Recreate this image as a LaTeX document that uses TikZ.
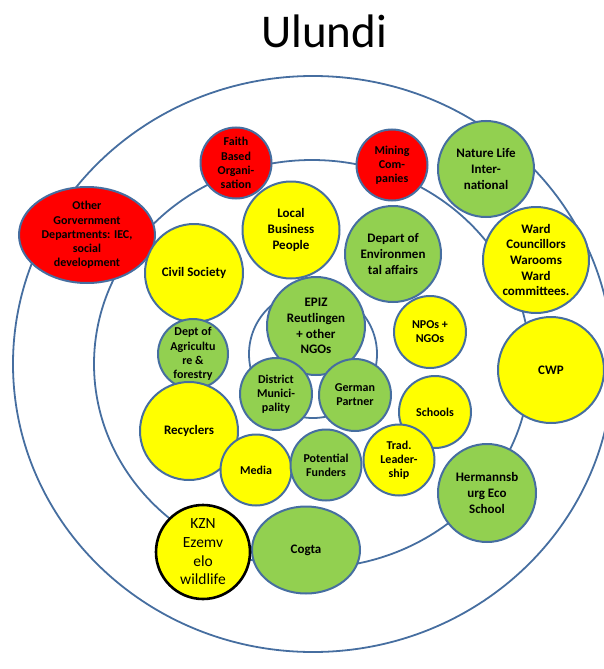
\documentclass[tikz,border=0pt]{standalone}
\usepackage{fontspec}
\setmainfont{Carlito}
\usepackage{tikz}
\usetikzlibrary{shapes.geometric}
\definecolor{ringblue}{RGB}{70,110,160}
\definecolor{leafgreen}{RGB}{146,208,80}
\definecolor{sunyellow}{RGB}{255,255,0}
\definecolor{alertred}{RGB}{255,0,0}

\begin{document}
\begin{tikzpicture}[x=1pt, y=-1pt,
    bubble/.style={circle, draw=ringblue, line width=2pt, inner sep=0pt,
        align=center, font=\bfseries\fontsize{13}{15.7}\selectfont},
    small/.style={font=\bfseries\fontsize{12}{14.2}\selectfont},
    redb/.style={bubble, fill=alertred},
    yellowb/.style={bubble, fill=sunyellow},
    greenb/.style={bubble, fill=leafgreen},
    ring/.style={draw=ringblue, line width=1.8pt}]
    \useasboundingbox (0,0) rectangle (603,669);

    % Title
    \node[anchor=base, font=\fontsize{47}{56}\selectfont] (title) at (324,48) {Ulundi};

    % Rings
    \draw[ring] (313,364) ellipse [x radius=300pt, y radius=288pt];
    \draw[ring] (312,364) ellipse [x radius=218pt, y radius=204pt];
    \draw[ring] (313,354) circle [radius=64pt];

    % Outer actors
    \node[redb, small, ellipse, minimum width=136pt, minimum height=96pt] (othergov) at (87,235)
        {Other\\Gorvernment\\Departments: IEC,\\social\\development};
    \node[redb, small, minimum size=71pt] (faith) at (236,163) {Faith\\Based\\Organi-\\sation};
    \node[redb, small, minimum size=71pt] (mining) at (392,165) {Mining\\Com-\\panies};
    \node[greenb, minimum size=96pt] (naturelife) at (486,169) {Nature Life\\Inter-\\national};
    \node[yellowb, minimum size=106pt] (ward) at (536,260) {Ward\\Councillors\\Warooms\\Ward\\committees.};
    \node[yellowb, minimum size=106pt] (cwp) at (551,370) {CWP};

    % Middle actors
    \node[yellowb, minimum size=98pt] (civil) at (194,273) {Civil Society};
    \node[yellowb, minimum size=97pt] (business) at (291,230) {Local\\Business\\People};
    \node[greenb, minimum size=96pt] (environ) at (393,254) {Depart of\\Environmen\\tal affairs};
    \node[yellowb, small, minimum size=72pt] (npos) at (430,332) {NPOs +\\NGOs};
    \node[greenb, small, minimum size=70pt] (agri) at (193,354) {Dept of\\Agricultu\\re \&\\forestry};
    \node[yellowb, minimum size=98pt] (recyclers) at (189,431) {Recyclers};

    % Inner actors
    \node[greenb, minimum size=98pt] (epiz) at (316,326) {EPIZ\\Reutlingen\\+ other\\NGOs};
    \node[greenb, small, minimum size=72pt] (district) at (276,394) {District\\Munici-\\pality};
    \node[greenb, small, minimum size=72pt] (german) at (355,395) {German\\Partner};

    \node[yellowb, small, minimum size=71pt] (media) at (256,470) {Media};
    \node[greenb, small, minimum size=71pt] (funders) at (326,465) {Potential\\Funders};
    \node[yellowb, small, minimum size=72pt] (schools) at (435,412) {Schools};
    \node[yellowb, small, minimum size=71pt] (trad) at (399,460) {Trad.\\Leader-\\ship};

    % Bottom actors
    \node[greenb, minimum size=98pt] (hermann) at (487,493) {Hermannsb\\urg Eco\\School};
    \node[greenb, ellipse, minimum width=108pt, minimum height=87pt] (cogta) at (306,550) {Cogta};
    \node[yellowb, draw=black, line width=2.6pt, minimum size=94pt,
        font=\fontsize{15.5}{18.7}\selectfont] (kzn) at (203,552) {KZN\\Ezemv\\elo\\wildlife};
\end{tikzpicture}
\end{document}
